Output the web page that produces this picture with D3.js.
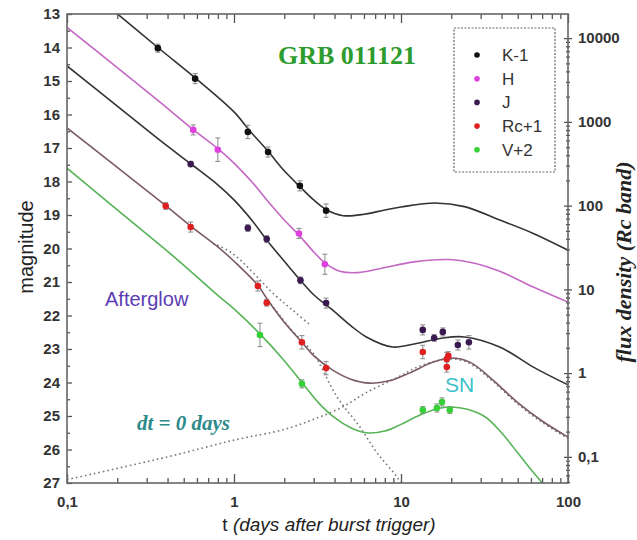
<!DOCTYPE html>
<html>
<head>
<meta charset="utf-8">
<script src="https://cdn.jsdelivr.net/npm/d3@7"></script>
<style>
  body { margin: 0; background: #fff; }
</style>
</head>
<body>
<div id="chart"></div>
<script>

// model curves: [days, magnitude]
var curveK = [[0.17,12.7],[0.35,14.0],[0.6,14.95],[1.0,15.92],[1.25,16.5],[1.6,17.1],[2.0,17.68],[2.5,18.17],[3.0,18.55],[3.6,18.85],[4.5,19.02],[6,18.98],[8,18.85],[10,18.76],[16,18.64],[24,18.75],[39,19.15],[62,19.55],[100,20.05]];
var curveH = [[0.1,13.4],[0.2,14.6],[0.35,15.58],[0.57,16.45],[0.8,17.02],[1.0,17.45],[1.3,18.05],[1.6,18.6],[2.0,19.15],[2.45,19.6],[3.0,20.1],[3.5,20.43],[4.3,20.68],[5.5,20.72],[7.8,20.58],[12,20.4],[19.5,20.33],[28,20.45],[39,20.68],[62,21.15],[100,21.6]];
var curveJ = [[0.1,14.55],[0.2,15.75],[0.35,16.72],[0.55,17.47],[0.8,18.1],[1.0,18.55],[1.3,19.2],[1.6,19.8],[2.0,20.38],[2.5,20.95],[3.0,21.38],[3.9,21.84],[5.0,22.3],[6.2,22.64],[8.9,22.94],[12,22.85],[17.8,22.67],[24,22.64],[39,22.94],[62,23.54],[100,24.07]];
var curveRc = [[0.1,16.4],[0.2,17.58],[0.39,18.72],[0.55,19.33],[0.8,19.95],[1.0,20.38],[1.39,21.1],[1.6,21.55],[2.0,22.2],[2.55,22.8],[3.0,23.2],[3.9,23.63],[5.0,23.9],[6.5,24.02],[8.5,23.95],[11.2,23.72],[15.6,23.39],[20,23.27],[26,23.4],[35,23.9],[50,24.6],[70,25.15],[100,25.63]];
var curveV = [[0.1,17.6],[0.2,18.85],[0.45,20.3],[0.8,21.4],[1.0,21.8],[1.43,22.55],[2.0,23.35],[2.55,24.0],[3.2,24.6],[4.0,25.05],[5.0,25.35],[6.2,25.5],[8,25.45],[10,25.25],[13,24.97],[17,24.77],[20,24.73],[25,24.8],[32,25.03],[40,25.5],[50,26.1],[60,26.6],[73,27.1]];

// dotted components (supernova and afterglow alone)
var dottedSN = [[0.1,26.9],[0.4,26.22],[1.0,25.72],[2.0,25.4],[3.0,25.1],[4.5,24.72],[6.2,24.3],[9.5,23.85],[12.4,23.55],[17.2,23.33],[21,23.3],[26,23.44],[35,23.94],[50,24.64],[70,25.19],[100,25.67]];
var dottedEarly = [[0.75,19.85],[0.97,20.13],[1.76,21.39],[2.32,21.9],[2.85,22.28]];
var dottedLate = [[1.6,21.55],[2.2,22.42],[2.97,23.12],[4.14,24.43],[5.68,25.33],[7.18,26.1],[9.46,26.82],[10.5,27.2]];

// measured points: [days, magnitude, error]
var pointsK = [[0.35,14.02,0.12],[0.585,14.93,0.15],[1.21,16.52,0.2],[1.6,17.12,0.15],[2.48,18.13,0.15],[3.56,18.87,0.2]];
var pointsH = [[0.57,16.46,0.15],[0.8,17.05,0.35],[2.45,19.55,0.15],[3.5,20.47,0.3]];
var pointsJ = [[0.55,17.48,0.08],[1.21,19.39,0.1],[1.57,19.72,0.1],[2.5,20.95,0.1],[3.56,21.63,0.15],[13.5,22.43,0.15],[15.8,22.67,0.1],[17.8,22.49,0.12],[21.9,22.88,0.15],[25.5,22.8,0.2]];
var pointsRc = [[0.39,18.73,0.1],[0.55,19.36,0.15],[1.39,21.12,0.15],[1.57,21.62,0.1],[2.55,22.8,0.2],[3.56,23.57,0.2],[13.5,23.09,0.2],[18.8,23.3,0.2],[18.8,23.54,0.15],[19.2,23.2,0.12]];
var pointsV = [[1.43,22.58,0.35],[2.55,24.04,0.12],[13.5,24.82,0.1],[16.4,24.76,0.12],[17.6,24.58,0.12],[19.6,24.82,0.1]];

var legendNames = ["K-1", "H", "J", "Rc+1", "V+2"];
var pointColors = ["#111111", "#e040e0", "#3a1a50", "#e02020", "#35d035"];
var lineColors = ["#333333", "#c468c4", "#333333", "#7b5b63", "#58b458"];

var magTicks = d3.range(13, 28);
var dayTicks = [0.1, 1, 10, 100];
var fluxTicks = [0.1, 1, 10, 100, 1000, 10000];
var fluxZero = 23.72; // magnitude where flux density = 1

// SVG area dimensions
var svgWidth = 637;
var svgHeight = 540;

var margin = {
  top: 14,
  right: 69,
  bottom: 57,
  left: 67
};

var chartWidth = svgWidth - margin.left - margin.right;
var chartHeight = svgHeight - margin.top - margin.bottom;

var svg = d3.select("#chart")
  .append("svg")
  .attr("width", svgWidth)
  .attr("height", svgHeight)
  .style("font-family", "'Liberation Sans', Arial, sans-serif");

var chartGroup = svg.append("g")
  .attr("transform", `translate(${margin.left}, ${margin.top})`);

// scales
var xScale = d3.scaleLog()
  .domain([0.1, 100])
  .range([0, chartWidth]);

var yScale = d3.scaleLinear()
  .domain([13, 27])
  .range([0, chartHeight]);

var fluxScale = d3.scaleLog()
  .domain([Math.pow(10, (fluxZero - 13) / 2.5), Math.pow(10, (fluxZero - 27) / 2.5)])
  .range([0, chartHeight]);

// minor tick positions for log axes
var dayMinor = [];
[0.1, 1, 10].forEach(function(d) {
  for (var k = 2; k <= 9; k++) dayMinor.push(d * k);
});
var fluxMinor = [];
[0.01, 0.1, 1, 10, 100, 1000, 10000].forEach(function(d) {
  for (var k = 2; k <= 9; k++) {
    var v = d * k;
    if (v > fluxScale.domain()[1] && v < fluxScale.domain()[0]) fluxMinor.push(v);
  }
});

var commaFormat = function(d) { return String(d).replace(".", ","); };

// clip the curves to the plot area
chartGroup.append("clipPath")
  .attr("id", "plotClip")
  .append("rect")
  .attr("width", chartWidth)
  .attr("height", chartHeight);

var plotGroup = chartGroup.append("g").attr("clip-path", "url(#plotClip)");

var drawLine = d3.line()
  .x(d => xScale(d[0]))
  .y(d => yScale(d[1]))
  .curve(d3.curveCatmullRom.alpha(0.5));

// dotted component curves
[dottedSN, dottedEarly, dottedLate].forEach(function(c) {
  plotGroup.append("path")
    .attr("d", drawLine(c))
    .attr("fill", "none")
    .attr("stroke", "#777")
    .attr("stroke-width", 1.6)
    .attr("stroke-dasharray", "1.6,3");
});

// solid model curves
var curves = [curveK, curveH, curveJ, curveRc, curveV];
curves.forEach(function(c, i) {
  plotGroup.append("path")
    .attr("d", drawLine(c))
    .attr("fill", "none")
    .attr("stroke", lineColors[i])
    .attr("stroke-width", 1.6);
});

// error bars and points
var pointSets = [pointsK, pointsH, pointsJ, pointsRc, pointsV];
pointSets.forEach(function(set, i) {
  var g = plotGroup.append("g");
  var bars = g.selectAll(".err")
    .data(set)
    .enter()
    .append("g");
  bars.append("line")
    .attr("x1", d => xScale(d[0]))
    .attr("x2", d => xScale(d[0]))
    .attr("y1", d => yScale(d[1] - d[2]))
    .attr("y2", d => yScale(d[1] + d[2]))
    .attr("stroke", "#888")
    .attr("stroke-width", 1);
  bars.append("line")
    .attr("x1", d => xScale(d[0]) - 2.5)
    .attr("x2", d => xScale(d[0]) + 2.5)
    .attr("y1", d => yScale(d[1] - d[2]))
    .attr("y2", d => yScale(d[1] - d[2]))
    .attr("stroke", "#888");
  bars.append("line")
    .attr("x1", d => xScale(d[0]) - 2.5)
    .attr("x2", d => xScale(d[0]) + 2.5)
    .attr("y1", d => yScale(d[1] + d[2]))
    .attr("y2", d => yScale(d[1] + d[2]))
    .attr("stroke", "#888");

  g.selectAll("circle")
    .data(set)
    .enter()
    .append("circle")
    .attr("cx", d => xScale(d[0]))
    .attr("cy", d => yScale(d[1]))
    .attr("r", 3.3)
    .attr("fill", pointColors[i]);
});

// axes: majors with labels, minors without
var tickStyle = function(sel) {
  sel.select(".domain").remove();
  sel.selectAll("line").attr("stroke", "#555").attr("stroke-width", 1.3);
  sel.selectAll("text")
    .attr("fill", "#333")
    .style("font-size", "15px")
    .style("font-weight", "bold");
};

chartGroup.append("g")
  .attr("transform", "translate(0, " + chartHeight + ")")
  .call(d3.axisBottom(xScale).tickValues(dayTicks).tickFormat(commaFormat).tickSize(-9).tickPadding(13))
  .call(tickStyle);
chartGroup.append("g")
  .attr("transform", "translate(0, " + chartHeight + ")")
  .call(d3.axisBottom(xScale).tickValues(dayMinor).tickFormat("").tickSize(-5))
  .call(tickStyle);
chartGroup.append("g")
  .call(d3.axisTop(xScale).tickValues(dayTicks).tickFormat("").tickSize(-9))
  .call(tickStyle);
chartGroup.append("g")
  .call(d3.axisTop(xScale).tickValues(dayMinor).tickFormat("").tickSize(-5))
  .call(tickStyle);

chartGroup.append("g")
  .call(d3.axisLeft(yScale).tickValues(magTicks).tickSize(-5).tickPadding(7))
  .call(tickStyle);
chartGroup.append("g")
  .call(d3.axisLeft(yScale).tickValues(d3.range(13.5, 27, 1)).tickFormat("").tickSize(-3))
  .call(tickStyle);

chartGroup.append("g")
  .attr("transform", "translate(" + chartWidth + ", 0)")
  .call(d3.axisRight(fluxScale).tickValues(fluxTicks).tickFormat(commaFormat).tickSize(4).tickPadding(6))
  .call(tickStyle);
chartGroup.append("g")
  .attr("transform", "translate(" + chartWidth + ", 0)")
  .call(d3.axisRight(fluxScale).tickValues(fluxTicks).tickFormat("").tickSize(-4))
  .call(tickStyle);
chartGroup.append("g")
  .attr("transform", "translate(" + chartWidth + ", 0)")
  .call(d3.axisRight(fluxScale).tickValues(fluxMinor).tickFormat("").tickSize(2))
  .call(tickStyle);
chartGroup.append("g")
  .attr("transform", "translate(" + chartWidth + ", 0)")
  .call(d3.axisRight(fluxScale).tickValues(fluxMinor).tickFormat("").tickSize(-2))
  .call(tickStyle);

// frame
chartGroup.append("rect")
  .attr("width", chartWidth)
  .attr("height", chartHeight)
  .attr("fill", "none")
  .attr("stroke", "#666")
  .attr("stroke-width", 1.6);

// legend
var legend = svg.append("g").attr("transform", "translate(454, 28)");
legend.append("rect")
  .attr("width", 101)
  .attr("height", 144)
  .attr("fill", "#fff")
  .attr("stroke", "#666")
  .attr("stroke-width", 1.2)
  .attr("stroke-dasharray", "2,1.5");
var items = legend.selectAll(".item")
  .data(legendNames)
  .enter()
  .append("g")
  .attr("transform", (d, i) => `translate(0, ${27 + i * 23.7})`);
items.append("circle")
  .attr("cx", 23)
  .attr("cy", 0)
  .attr("r", 2.8)
  .attr("fill", (d, i) => pointColors[i]);
items.append("text")
  .attr("x", 48)
  .attr("y", 6)
  .text(d => d)
  .attr("fill", "#333")
  .style("font-size", "17px");

// titles and annotations
svg.append("text")
  .attr("x", 278)
  .attr("y", 64)
  .text("GRB 011121")
  .attr("fill", "#2e9b2e")
  .style("font-family", "'Liberation Serif', 'Times New Roman', serif")
  .style("font-weight", "bold")
  .style("font-size", "26px");

svg.append("text")
  .attr("x", 105)
  .attr("y", 306)
  .text("Afterglow")
  .attr("fill", "#5b3cb4")
  .style("font-size", "20px");

svg.append("text")
  .attr("x", 137)
  .attr("y", 430)
  .text("dt = 0 days")
  .attr("fill", "#2d8a8a")
  .style("font-family", "'Liberation Serif', 'Times New Roman', serif")
  .style("font-weight", "bold")
  .style("font-style", "italic")
  .style("font-size", "21px");

svg.append("text")
  .attr("x", 445)
  .attr("y", 392)
  .text("SN")
  .attr("fill", "#3cc0cc")
  .style("font-size", "21px");

// axis labels
svg.append("text")
  .attr("transform", "translate(33, 247) rotate(-90)")
  .attr("text-anchor", "middle")
  .text("magnitude")
  .attr("fill", "#222")
  .style("font-size", "20px");

var xLabel = svg.append("text")
  .attr("x", 329)
  .attr("y", 531)
  .attr("text-anchor", "middle")
  .attr("fill", "#222")
  .style("font-size", "19px");
xLabel.append("tspan").text("t ");
xLabel.append("tspan").text("(days after burst trigger)").style("font-style", "italic");

svg.append("text")
  .attr("transform", "translate(631, 262) rotate(-90)")
  .attr("text-anchor", "middle")
  .text("flux density (Rc band)")
  .attr("fill", "#222")
  .style("font-family", "'Liberation Serif', 'Times New Roman', serif")
  .style("font-weight", "bold")
  .style("font-style", "italic")
  .style("font-size", "22px");

</script>
</body>
</html>
